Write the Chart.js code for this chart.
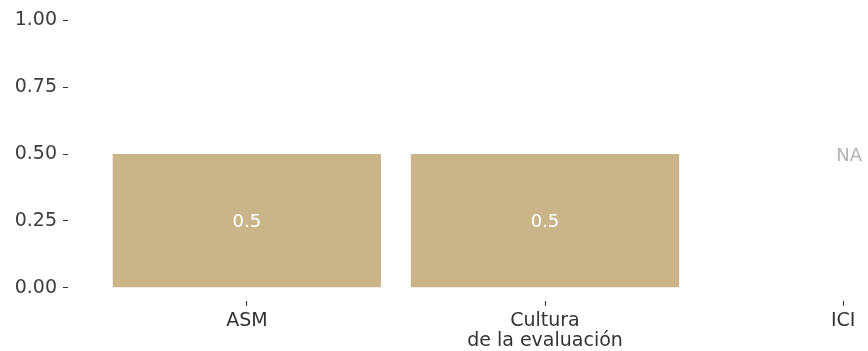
<!DOCTYPE html>
<html>
<head>
<meta charset="utf-8">
<script src="https://cdn.jsdelivr.net/npm/chart.js@4"></script>
<style>
  html, body { margin: 0; padding: 0; background: #fff; overflow: hidden; }
</style>
</head>
<body>
<canvas id="myChart" width="1022" height="351"></canvas>
<script>
/*-----data-----*/
var categories = ['ASM', 'Cultura\nde la evaluación', 'ICI'];
var catPos = [1, 2, 3];
var values = [0.5, 0.5, null];
var naLevel = 0.5;
var yTicks = [0, 0.25, 0.5, 0.75, 1];

var fontName = '"DejaVu Sans", sans-serif';

/*-----value labels inside bars, NA for missing-----*/
var barLabels = {
    id: 'barLabels',
    afterDatasetsDraw: function(chart) {
        var ctx = chart.ctx;
        var xs = chart.scales.x, ys = chart.scales.y;
        ctx.save();
        ctx.font = '18px ' + fontName;
        ctx.textAlign = 'center';
        ctx.textBaseline = 'middle';
        for (var i = 0; i < values.length; i++) {
            var x = xs.getPixelForValue(catPos[i]);
            if (values[i] === null) {
                ctx.fillStyle = '#b3b3b3';
                ctx.fillText('NA', x + 6, ys.getPixelForValue(naLevel) + 2);
            } else {
                ctx.fillStyle = '#ffffff';
                ctx.fillText(String(values[i]), x, ys.getPixelForValue(values[i] / 2) + 2);
            }
        }
        ctx.restore();
    }
};

/*------chart---------*/
var ctx = document.getElementById('myChart').getContext('2d');
var myChart = new Chart(ctx, {
    type: 'bar',
    data: {
        datasets: [{
            data: values.map(function(v, i) { return {x: catPos[i], y: v}; }),
            backgroundColor: '#cab48a',
            borderWidth: 0,
            categoryPercentage: 1,
            barPercentage: 0.9
        }]
    },
    options: {
        responsive: false,
        animation: false,
        layout: { padding: { top: 7, left: 0, right: 0, bottom: 0 } },
        plugins: {
            legend: { display: false },
            tooltip: { enabled: false }
        },
        scales: {
            x: {
                type: 'linear',
                min: 0.4,
                max: 3.6,
                offset: false,
                afterBuildTicks: function(scale) {
                    scale.ticks = catPos.map(function(v) { return {value: v}; });
                },
                afterFit: function(scale) {
                    scale.height = 50;
                    scale.paddingLeft = 0;
                    scale.paddingRight = 0;
                },
                border: { display: false },
                grid: { offset: false, drawOnChartArea: false, drawTicks: true, tickLength: 5, color: '#333333' },
                ticks: {
                    autoSkip: false,
                    maxRotation: 0,
                    padding: 5,
                    color: '#333333',
                    font: { family: fontName, size: 19, lineHeight: 1.05 },
                    callback: function(v) {
                        var i = catPos.indexOf(v);
                        return i < 0 ? '' : categories[i].split('\n');
                    }
                }
            },
            y: {
                min: -0.05,
                max: 1.05,
                afterBuildTicks: function(scale) {
                    scale.ticks = yTicks.map(function(v) { return {value: v}; });
                },
                afterFit: function(scale) {
                    scale.width = 68;
                    scale.paddingTop = 0;
                    scale.paddingBottom = 0;
                },
                border: { display: false },
                grid: { drawOnChartArea: false, drawTicks: true, tickLength: 5, color: '#333333' },
                ticks: {
                    padding: 6,
                    color: '#3d3d3d',
                    font: { family: fontName, size: 19 },
                    callback: function(v) { return v.toFixed(2); }
                }
            }
        }
    },
    plugins: [barLabels]
});
</script>
</body>
</html>
